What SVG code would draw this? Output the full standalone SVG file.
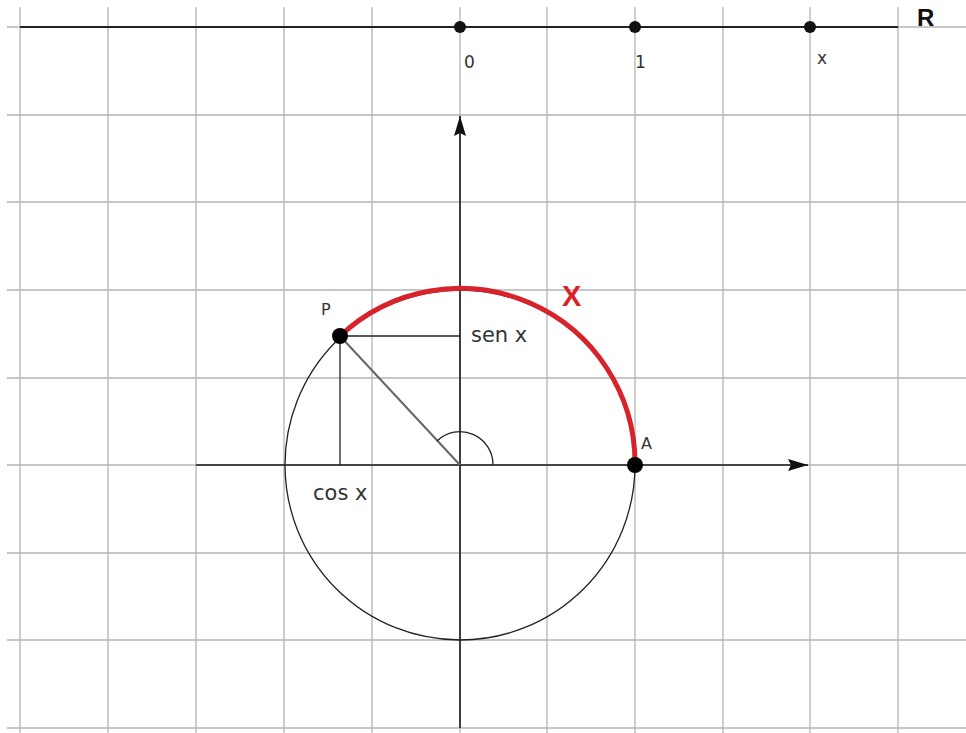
<svg xmlns="http://www.w3.org/2000/svg" width="966" height="733" viewBox="0 0 966 733">
<defs>
<style>
.grid line{stroke:#b4b4b4;stroke-width:1.3}
.ax{stroke:#1a1a1a;stroke-width:1.6;fill:none}
.thin{stroke:#222;stroke-width:1.3;fill:none}
.lbl{font-family:"DejaVu Sans","Liberation Sans",sans-serif;fill:#333}
</style>
<marker id="arr" markerWidth="20" markerHeight="12" refX="20" refY="6" orient="auto" markerUnits="userSpaceOnUse">
<path d="M0,0 L20,6 L0,12 L3,6 Z" fill="#111"/>
</marker>
</defs>
<rect width="966" height="733" fill="#fff"/>
<g class="grid">
<line x1="20" y1="7" x2="20" y2="733"/>
<line x1="108" y1="7" x2="108" y2="733"/>
<line x1="196" y1="7" x2="196" y2="733"/>
<line x1="284" y1="7" x2="284" y2="733"/>
<line x1="372" y1="7" x2="372" y2="733"/>
<line x1="460" y1="7" x2="460" y2="733"/>
<line x1="547" y1="7" x2="547" y2="733"/>
<line x1="635" y1="7" x2="635" y2="733"/>
<line x1="723" y1="7" x2="723" y2="733"/>
<line x1="810" y1="7" x2="810" y2="733"/>
<line x1="898" y1="7" x2="898" y2="733"/>
<line x1="7" y1="27" x2="966" y2="27"/>
<line x1="7" y1="115" x2="966" y2="115"/>
<line x1="7" y1="202" x2="966" y2="202"/>
<line x1="7" y1="290" x2="966" y2="290"/>
<line x1="7" y1="378" x2="966" y2="378"/>
<line x1="7" y1="465" x2="966" y2="465"/>
<line x1="7" y1="553" x2="966" y2="553"/>
<line x1="7" y1="640" x2="966" y2="640"/>
<line x1="7" y1="728" x2="966" y2="728"/>
</g>
<g id="real-line">
<line x1="20" y1="27" x2="898" y2="27" stroke="#222" stroke-width="2"/>
<text x="917" y="26" font-size="24" font-weight="bold" fill="#111" font-family="Liberation Sans, Arial, sans-serif">R</text>
</g>
<g id="pt-0">
<circle cx="460" cy="27" r="6" fill="#111"/>
<text class="lbl" x="464" y="68" font-size="17">0</text>
</g>
<g id="pt-1">
<circle cx="635" cy="27" r="6" fill="#111"/>
<text class="lbl" x="635" y="68" font-size="17">1</text>
</g>
<g id="pt-x">
<circle cx="810" cy="27" r="6" fill="#111"/>
<text class="lbl" x="817" y="64" font-size="17">x</text>
</g>
<g id="connectors">
<line class="ax" x1="196" y1="465" x2="808" y2="465" marker-end="url(#arr)"/>
<line class="ax" x1="460" y1="728" x2="460" y2="116" marker-end="url(#arr)"/>
<circle class="thin" cx="460" cy="465" r="175"/>
<line x1="340" y1="336" x2="460" y2="465" stroke="#666" stroke-width="2"/>
<line class="thin" x1="340" y1="336" x2="460" y2="336"/>
<line class="thin" x1="340" y1="336" x2="340" y2="465"/>
<path class="thin" d="M493,465 A33,33 0 0 0 437,441" stroke="#444"/>
<path d="M340,336 A175,175 0 0 1 635,465" fill="none" stroke="#d9232b" stroke-width="5"/>
</g>
<g id="P">
<circle cx="340" cy="336" r="8" fill="#000"/>
<text class="lbl" x="321" y="315" font-size="16">P</text>
</g>
<g id="A">
<circle cx="635" cy="465" r="8" fill="#000"/>
<text class="lbl" x="641" y="449" font-size="16">A</text>
</g>
<text class="lbl" x="471" y="342" font-size="21">sen x</text>
<text class="lbl" x="313" y="500" font-size="21">cos x</text>
<text x="562" y="306" font-size="29" font-weight="bold" fill="#d9232b" font-family="Liberation Sans, Arial, sans-serif">X</text>
</svg>
